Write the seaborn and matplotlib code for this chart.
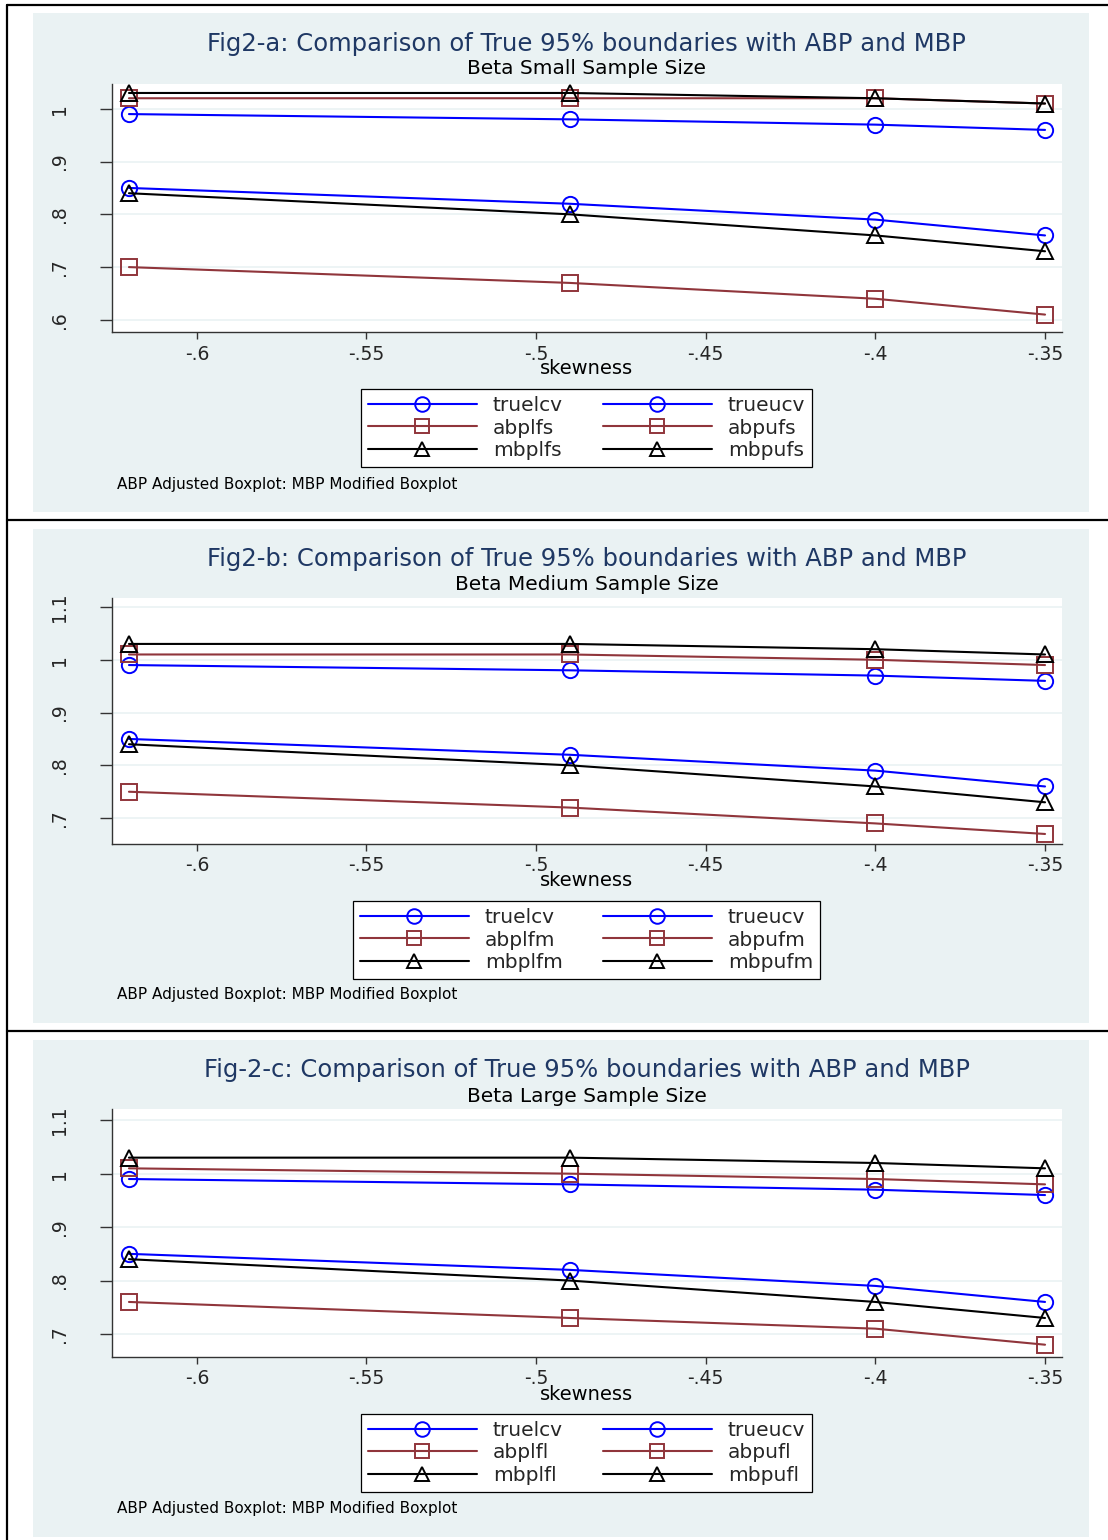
import matplotlib
matplotlib.use("Agg")
import matplotlib.pyplot as plt
import seaborn as sns
from matplotlib.lines import Line2D
from matplotlib.patches import Rectangle

# x values (skewness) shared by all panels
skew = [-0.62, -0.49, -0.40, -0.35]

# true 95% boundaries (same in all panels)
truelcv = [0.85, 0.82, 0.79, 0.76]
trueucv = [0.99, 0.98, 0.97, 0.96]

# small sample
abplfs = [0.70, 0.67, 0.64, 0.61]
abpufs = [1.02, 1.02, 1.02, 1.01]
mbplfs = [0.84, 0.80, 0.76, 0.73]
mbpufs = [1.03, 1.03, 1.02, 1.01]

# medium sample
abplfm = [0.75, 0.72, 0.69, 0.67]
abpufm = [1.01, 1.01, 1.00, 0.99]
mbplfm = [0.84, 0.80, 0.76, 0.73]
mbpufm = [1.03, 1.03, 1.02, 1.01]

# large sample
abplfl = [0.76, 0.73, 0.71, 0.68]
abpufl = [1.01, 1.00, 0.99, 0.98]
mbplfl = [0.84, 0.80, 0.76, 0.73]
mbpufl = [1.03, 1.03, 1.02, 1.01]

titles = ["Fig2-a: Comparison of True 95% boundaries with ABP and MBP",
          "Fig2-b: Comparison of True 95% boundaries with ABP and MBP",
          "Fig-2-c: Comparison of True 95% boundaries with ABP and MBP"]
subtitles = ["Beta Small Sample Size", "Beta Medium Sample Size", "Beta Large Sample Size"]
suffixes = ["fs", "fm", "fl"]
series = [
    [truelcv, trueucv, abplfs, abpufs, mbplfs, mbpufs],
    [truelcv, trueucv, abplfm, abpufm, mbplfm, mbpufm],
    [truelcv, trueucv, abplfl, abpufl, mbplfl, mbpufl],
]
xticks = [-0.6, -0.55, -0.5, -0.45, -0.4, -0.35]
xticklabels = ["-.6", "-.55", "-.5", "-.45", "-.4", "-.35"]
yticks = [[0.6, 0.7, 0.8, 0.9, 1.0], [0.7, 0.8, 0.9, 1.0, 1.1], [0.7, 0.8, 0.9, 1.0, 1.1]]
yticklabels = [[".6", ".7", ".8", ".9", "1"], [".7", ".8", ".9", "1", "1.1"], [".7", ".8", ".9", "1", "1.1"]]
note = "ABP Adjusted Boxplot: MBP Modified Boxplot"

# pixel layout of each panel
layout = [
    dict(bg=(13, 512), ax=(84, 332), ylim=(0.577, 1.047), title=44, sub=69, xlab=368, leg=428, note=484),
    dict(bg=(529, 1023), ax=(598, 844), ylim=(0.651, 1.117), title=559, sub=584, xlab=881, leg=940, note=995),
    dict(bg=(1040, 1537), ax=(1109, 1357), ylim=(0.657, 1.121), title=1070, sub=1096, xlab=1394, leg=1453, note=1509),
]

W, H = 1108, 1540
BG = "#EAF2F3"
BLUE = "#0000FF"
MAROON = "#90353B"
NAVY = "#1F3864"
colors = [BLUE, BLUE, MAROON, MAROON, "black", "black"]
markers = ["o", "o", "s", "s", "^", "^"]

sns.set_style("white")
plt.rcParams["font.family"] = ["DejaVu Sans"]

fig = plt.figure(figsize=(W / 100, H / 100), dpi=100)
fig.patch.set_facecolor("white")


def fy(y):
    return 1 - y / H


# outer frame lines
fig.add_artist(Line2D([7 / W, 7 / W], [0, fy(5)], color="black", lw=1.6))
for yy in [5, 520, 1031]:
    fig.add_artist(Line2D([7 / W, 1], [fy(yy), fy(yy)], color="black", lw=1.6))

for i, lay in enumerate(layout):
    b0, b1 = lay["bg"]
    fig.add_artist(Rectangle((33 / W, fy(b1)), (1089 - 33) / W, (b1 - b0) / H,
                             facecolor=BG, edgecolor="none", zorder=0))
    a0, a1 = lay["ax"]
    ax = fig.add_axes([112 / W, fy(a1), (1062 - 112) / W, (a1 - a0) / H])
    ax.set_facecolor("white")

    suf = suffixes[i]
    names = ["truelcv", "trueucv", "abpl" + suf, "abpu" + suf, "mbpl" + suf, "mbpu" + suf]
    for vals, c, m in zip(series[i], colors, markers):
        ms = 12 if m == "^" else 11
        sns.lineplot(x=skew, y=vals, ax=ax, color=c, marker=m, markersize=ms,
                     mfc="none", mec=c, mew=1.4, lw=1.5, legend=False)

    ax.set_xlim(-0.625, -0.345)
    ax.set_ylim(*lay["ylim"])
    ax.set_xticks(xticks)
    ax.set_xticklabels(xticklabels, fontsize=13.5)
    ax.set_yticks(yticks[i])
    ax.set_yticklabels(yticklabels[i], fontsize=13.5, rotation=90, va="center")
    ax.tick_params(axis="x", length=5, width=1, color="#333333", pad=4, direction="out", bottom=True)
    ax.tick_params(axis="y", length=9, width=1, color="#333333", pad=22, direction="out", left=True)
    ax.yaxis.grid(True, color=BG, lw=1.2)
    ax.xaxis.grid(False)
    ax.set_axisbelow(True)
    for s in ["top", "right"]:
        ax.spines[s].set_visible(False)
    for s in ["left", "bottom"]:
        ax.spines[s].set_color("#333333")
        ax.spines[s].set_linewidth(1.0)
    ax.set_xlabel("")
    ax.set_ylabel("")

    fig.text(586.5 / W, fy(lay["title"]), titles[i], ha="center", va="center",
             fontsize=17.5, color=NAVY)
    fig.text(586.5 / W, fy(lay["sub"]), subtitles[i], ha="center", va="center",
             fontsize=14.5, color="black")
    fig.text(586.5 / W, fy(lay["xlab"]), "skewness", ha="center", va="center",
             fontsize=14, color="black")
    fig.text(117 / W, fy(lay["note"]), note, ha="left", va="center",
             fontsize=11, color="black")

    handles = [Line2D([], [], color=c, marker=m, markersize=10.5, mfc="none", mec=c, mew=1.4, lw=1.5)
               for c, m in zip(colors, markers)]
    order = [0, 2, 4, 1, 3, 5]
    leg = fig.legend([handles[k] for k in order], [names[k] for k in order], ncol=2,
                     loc="center", bbox_to_anchor=(586.5 / W, fy(lay["leg"])),
                     fontsize=14.5, frameon=True, fancybox=False, framealpha=1,
                     edgecolor="black", facecolor="white", handlelength=5.4,
                     handletextpad=0.8, columnspacing=2.0, labelspacing=0.18,
                     borderpad=0.35, numpoints=1)
    leg.get_frame().set_linewidth(0.9)

fig.savefig("out.png", dpi=100)
